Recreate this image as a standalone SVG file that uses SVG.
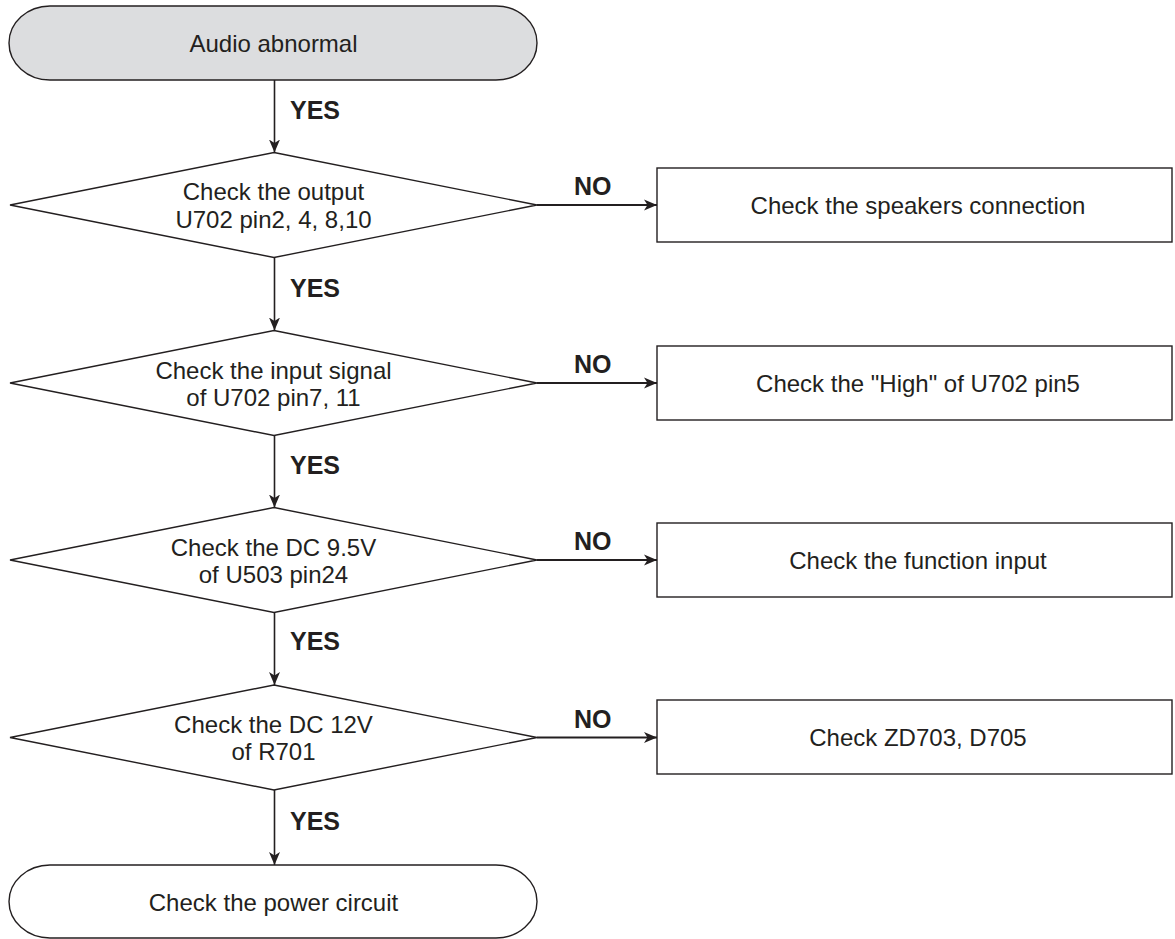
<svg xmlns="http://www.w3.org/2000/svg" width="1175" height="939" viewBox="0 0 1175 939">
  <style>
    .shape { fill: #ffffff; stroke: #231f20; stroke-width: 1.4; }
    .start { fill: #dcdddf; stroke: #231f20; stroke-width: 1.4; }
    .txt { font-family: "Liberation Sans", Arial, sans-serif; font-size: 24px; fill: #231f20; text-anchor: middle; }
    .lbl { font-family: "Liberation Sans", Arial, sans-serif; font-size: 25px; font-weight: bold; fill: #231f20; }
    .flow { fill: none; stroke: #231f20; stroke-width: 1.6; marker-end: url(#head); }
    .side { stroke-width: 2; }
  </style>
  <defs>
    <marker id="head" markerUnits="userSpaceOnUse" markerWidth="14" markerHeight="12" refX="13" refY="6" orient="auto">
      <path d="M0,0.5 L13,6 L0,11.5 L3.5,6 Z" fill="#231f20"/>
    </marker>
  </defs>

  <!-- start terminal -->
  <g id="start">
    <path class="start" d="M50,6 H496 A41,37 0 0 1 496,80 H50 A41,37 0 0 1 50,6 Z"/>
    <text class="txt" x="273.5" y="52">Audio abnormal</text>
  </g>

  <!-- decisions -->
  <g id="check-output">
    <polygon class="shape" points="274,152.5 537,205 274,257.5 10,205"/>
    <text class="txt" x="273.5" y="200">Check the output</text>
    <text class="txt" x="273.5" y="227.5">U702 pin2, 4, 8,10</text>
  </g>
  <g id="check-input">
    <polygon class="shape" points="274,330.5 537,383 274,435.5 10,383"/>
    <text class="txt" x="273.5" y="378.5">Check the input signal</text>
    <text class="txt" x="273.5" y="405.5">of U702 pin7, 11</text>
  </g>
  <g id="check-dc95">
    <polygon class="shape" points="274,507.5 537,560 274,612.5 10,560"/>
    <text class="txt" x="273.5" y="555.5">Check the DC 9.5V</text>
    <text class="txt" x="273.5" y="582.5">of U503 pin24</text>
  </g>
  <g id="check-dc12">
    <polygon class="shape" points="274,685 537,737.5 274,790 10,737.5"/>
    <text class="txt" x="273.5" y="733">Check the DC 12V</text>
    <text class="txt" x="273.5" y="760">of R701</text>
  </g>

  <!-- actions -->
  <g id="speakers">
    <rect class="shape" x="657" y="168" width="515" height="74"/>
    <text class="txt" x="918" y="213.5">Check the speakers connection</text>
  </g>
  <g id="high-pin5">
    <rect class="shape" x="657" y="346" width="515" height="74"/>
    <text class="txt" x="918" y="391.5">Check the "High" of U702 pin5</text>
  </g>
  <g id="function-input">
    <rect class="shape" x="657" y="523" width="515" height="74"/>
    <text class="txt" x="918" y="568.5">Check the function input</text>
  </g>
  <g id="zd703">
    <rect class="shape" x="657" y="700" width="515" height="74"/>
    <text class="txt" x="918" y="746">Check ZD703, D705</text>
  </g>

  <!-- end terminal -->
  <g id="power">
    <path class="shape" d="M50,865 H496 A41,36.5 0 0 1 496,938 H50 A41,36.5 0 0 1 50,865 Z"/>
    <text class="txt" x="273.5" y="911">Check the power circuit</text>
  </g>

  <!-- connectors -->
  <g id="connectors">
    <line class="flow" x1="274.5" y1="80" x2="274.5" y2="152.5"/>
    <line class="flow" x1="274.5" y1="257.5" x2="274.5" y2="330.5"/>
    <line class="flow" x1="274.5" y1="435.5" x2="274.5" y2="507.5"/>
    <line class="flow" x1="274.5" y1="612.5" x2="274.5" y2="685"/>
    <line class="flow" x1="274.5" y1="790" x2="274.5" y2="865"/>

    <line class="flow side" x1="537" y1="205" x2="657" y2="205"/>
    <line class="flow side" x1="537" y1="383" x2="657" y2="383"/>
    <line class="flow side" x1="537" y1="560" x2="657" y2="560"/>
    <line class="flow side" x1="537" y1="737.5" x2="657" y2="737.5"/>

    <text class="lbl" x="290" y="119">YES</text>
    <text class="lbl" x="290" y="297">YES</text>
    <text class="lbl" x="290" y="474">YES</text>
    <text class="lbl" x="290" y="650">YES</text>
    <text class="lbl" x="290" y="830">YES</text>

    <text class="lbl" x="574" y="195">NO</text>
    <text class="lbl" x="574" y="373">NO</text>
    <text class="lbl" x="574" y="550">NO</text>
    <text class="lbl" x="574" y="727.5">NO</text>
  </g>
</svg>
